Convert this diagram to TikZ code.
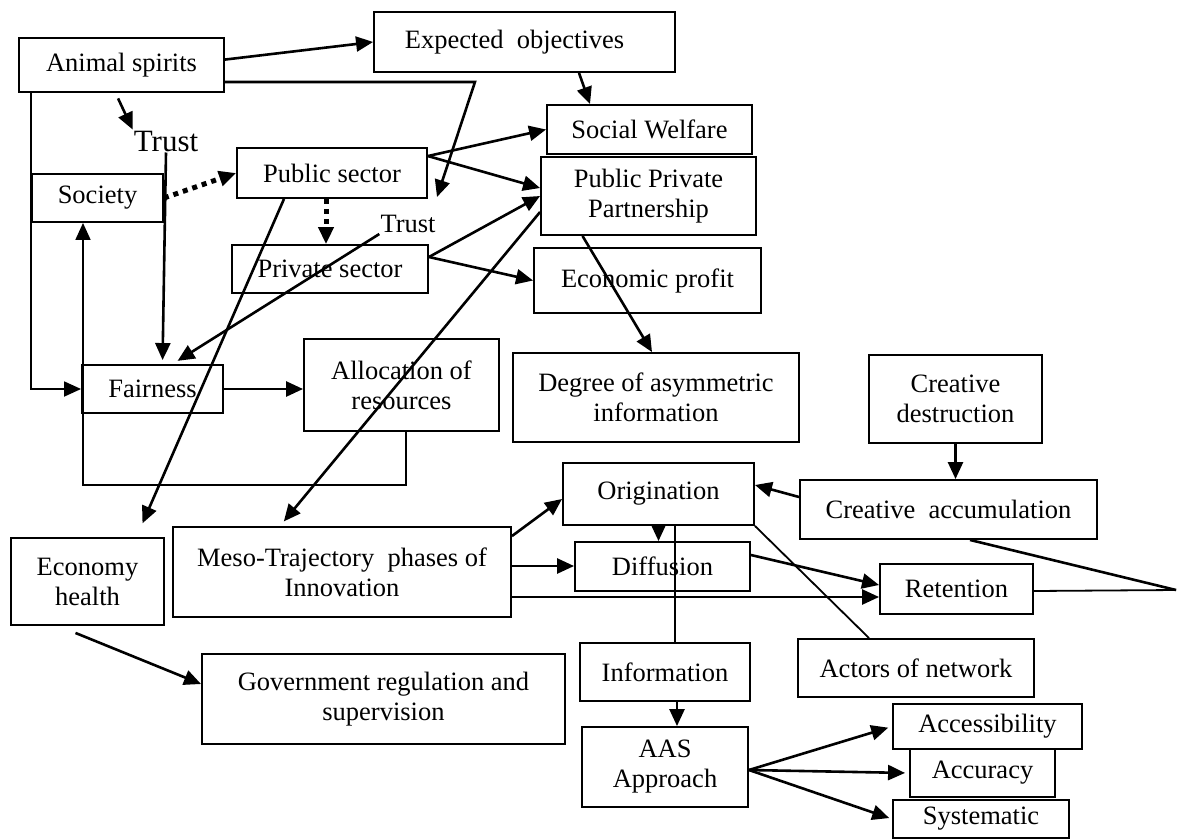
\documentclass[tikz,border=0pt]{standalone}
\usepackage{fontspec}
\setmainfont{Liberation Serif}
\usetikzlibrary{arrows.meta}
\newcommand\diagfont{\fontsize{26.5}{30}\selectfont}

\begin{document}
\begin{tikzpicture}[%
>={Triangle[length=17pt,width=15pt]},
x=1pt, y=-1pt,
box/.style={draw, line width=1.9pt, inner sep=0pt, align=center, font=\diagfont},
arr/.style={->, line width=2.6pt},
dotarr/.style={->, line width=5pt, dash pattern=on 5pt off 5pt},
plain/.style={line width=1.8pt}
]

\path[use as bounding box, fill=white] (0,0) rectangle (1177,838);

\node[box, minimum width=205pt, minimum height=54pt] (anim) at (121.5,65) {Animal spirits};
\node[box, minimum width=301pt, minimum height=60pt] (expobj) at (524.5,42) {Expected~ objectives~~~};
\node[box, minimum width=205pt, minimum height=49pt] (socw) at (649.5,129.5) {Social Welfare};
\node[box, minimum width=215pt, minimum height=78pt] (ppp) at (648.5,196) {Public Private\\Partnership};
\node[box, minimum width=227pt, minimum height=65pt] (econp) at (647.5,280.5) {Economic profit};
\node[font=\fontsize{31}{34}\selectfont, inner sep=1pt] (trustA) at (166,141) {Trust};
\node[box, minimum width=131pt, minimum height=48pt] (soc) at (97.5,198) {Society};
\node[box, minimum width=190pt, minimum height=50pt] (pub) at (332,173) {Public sector};
\node[font=\diagfont, inner sep=1pt] (trustB) at (408,224) {Trust};
\node[box, minimum width=196pt, minimum height=48pt] (priv) at (330,269) {Private sector};
\node[box, minimum width=141pt, minimum height=48pt] (fair) at (152.5,389) {Fairness};
\node[box, minimum width=195pt, minimum height=92pt] (alloc) at (401.5,385) {Allocation of\\resources};
\node[box, minimum width=286pt, minimum height=89pt] (degree) at (656,397.5) {Degree of asymmetric\\information};
\node[box, minimum width=173pt, minimum height=88pt] (credes) at (955.5,399) {Creative\\destruction};
\node[box, minimum width=191pt, minimum height=62pt] (orig) at (658.5,494) {Origination};
\node[box, minimum width=297pt, minimum height=59pt] (creacc) at (948.5,509.5) {Creative~ accumulation};
\node[box, minimum width=175pt, minimum height=49pt] (diff) at (662.5,566.5) {Diffusion};
\node[box, minimum width=153pt, minimum height=87pt] (econh) at (87.5,581.5) {Economy\\health};
\node[box, minimum width=338pt, minimum height=90pt] (meso) at (342,572) {Meso-Trajectory~ phases of\\Innovation};
\node[box, minimum width=153pt, minimum height=50pt] (ret) at (956.5,589) {Retention};
\node[box, minimum width=363pt, minimum height=90pt] (govt) at (383.5,699) {Government regulation and\\supervision};
\node[box, minimum width=170pt, minimum height=58pt] (info) at (665,672) {Information};
\node[box, minimum width=236pt, minimum height=58pt] (actors) at (916,668) {Actors of network};
\node[box, minimum width=166pt, minimum height=80pt] (aas) at (665,767) {AAS\\Approach};
\node[box, minimum width=189pt, minimum height=45pt] (access) at (987.5,726.5) {Accessibility};
\node[box, minimum width=145pt, minimum height=48pt] (accur) at (982.5,773) {Accuracy};
\node[box, minimum width=176pt, minimum height=38pt] (syst) at (981,819) {Systematic};

\coordinate (tipB) at (437,197);
\coordinate (edge) at (1176,590);

% animal spirits
\draw[arr] (anim.3) -- (expobj.west);
\draw[arr] ([yshift=-17pt]anim.east) -- ++(250,0) -- (tipB);
\draw[arr, shorten <=6pt] ([xshift=-6pt]anim.south) -- (trustA.north west);
\draw[plain, ->] ([xshift=13pt]anim.south west) |- (fair.west);

% trust
\draw[arr, shorten >=4pt] (trustA.south) -- ([xshift=10pt]fair.north);
\draw[arr, shorten >=6pt] (trustB.south west) -- ([xshift=20pt]fair.north);

% sectors
\draw[dotarr] (soc.east) -- (pub.west);
\draw[dotarr] ([xshift=-6pt]pub.south) -- ([xshift=-6pt]pub.south |- priv.north);
\draw[arr, shorten >=15pt] ([xshift=-48pt]pub.south) -- ([xshift=49pt]econh.north);
\draw[arr] ([yshift=-9pt]pub.north east) -- (socw.west);
\draw[arr] ([yshift=-9pt]pub.north east) -- ([yshift=8pt]ppp.west);
\draw[arr] ([yshift=12pt]priv.east) -- (ppp.west);
\draw[arr] ([yshift=12pt]priv.east) -- (econp.west);
\draw[arr] ([xshift=54.5pt]expobj.south) -- ([xshift=-59.5pt]socw.north);

% PPP
\draw[arr, shorten >=6pt] ([yshift=-16pt]ppp.west) -- ([xshift=-62pt]meso.north);
\draw[arr] ([xshift=-66pt]ppp.south) -- ([xshift=-4pt]degree.north);

% fairness loop
\draw[arr] (fair.east) -- (fair.east -| alloc.west);
\draw[plain, ->] ([xshift=4.5pt]alloc.south) -- ++(0,53) -| ([xshift=-14.5pt]soc.south);
\draw[arr] ([xshift=-12pt,yshift=-7pt]econh.south) -- ([yshift=15pt]govt.west);

% meso trajectory
\draw[arr] ([yshift=-10pt]meso.north east) -- ([yshift=-5pt]orig.west);
\draw[arr] ([yshift=6pt]meso.east) -- ([yshift=6pt]meso.east -| diff.west);
\draw[arr] ([yshift=-25pt]meso.east) -- ([yshift=-25pt]meso.east -| ret.west);
\draw[arr] (orig.south) -- (orig.south |- diff.north);
\draw[plain] ([xshift=10pt]info.north) -- ([xshift=10pt]info.north |- orig.south);
\draw[plain] (orig.south east) -- ([xshift=-47pt]actors.north);
\draw[arr] ([yshift=11.5pt]diff.east) -- ([yshift=4pt]ret.west);

% creative
\draw[arr] (credes.south) -- (credes.south |- creacc.north);
\draw[arr] ([yshift=12.5pt]creacc.west) -- ([yshift=9pt]orig.east);
\draw[arr, -] ([xshift=21.5pt]creacc.south) -- (edge);
\draw[plain] ([yshift=-2pt]ret.east) -- (edge);

% AAS
\draw[arr] ([xshift=12pt]info.south) -- ([xshift=12pt]info.south |- aas.north);
\draw[arr, shorten >=4pt] ([yshift=-3pt]aas.east) -- (access.west);
\draw[arr, shorten >=4pt] ([yshift=-3pt]aas.east) -- (accur.west);
\draw[arr, shorten >=3pt] ([yshift=-3pt]aas.east) -- (syst.west);

\end{tikzpicture}
\end{document}
